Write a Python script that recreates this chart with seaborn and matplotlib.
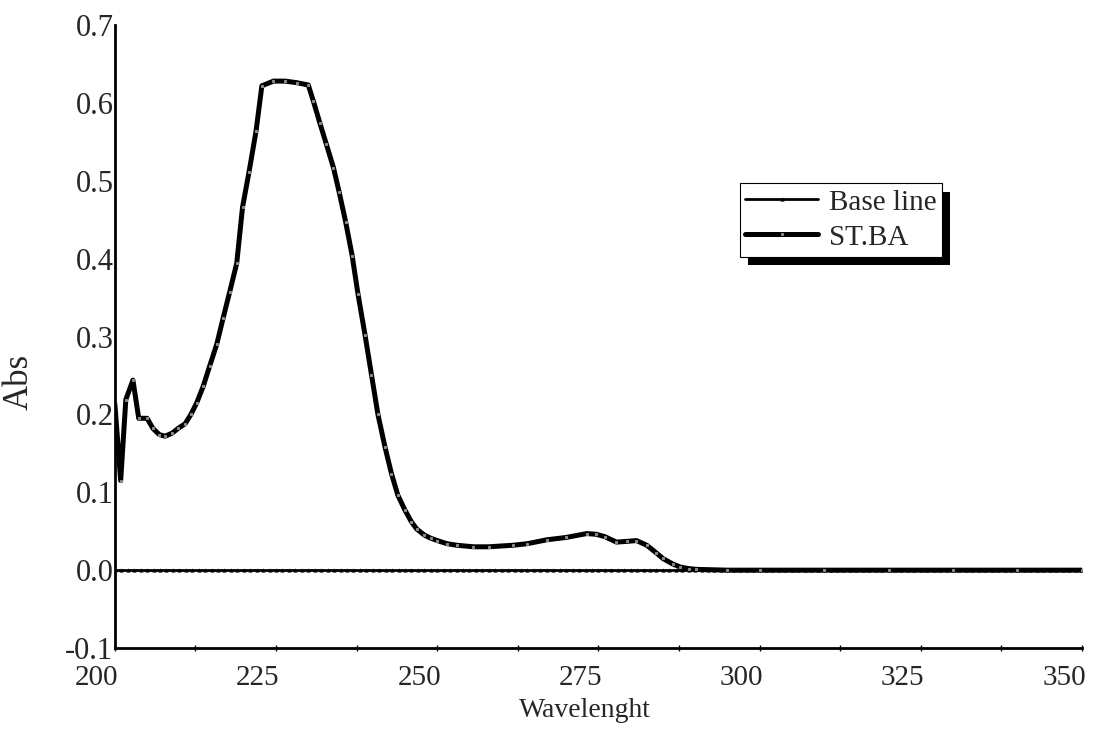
import numpy as np
import pandas as pd
import seaborn as sns
import matplotlib.pyplot as plt
import matplotlib.patheffects as pe
from matplotlib.ticker import MultipleLocator
from matplotlib.transforms import ScaledTranslation

# wavelength (nm) and absorbance
st_wl = [200.0, 200.9, 201.7, 202.8, 203.7, 205.0, 205.9, 206.9, 207.8, 208.9,
         209.8, 210.9, 211.8, 212.7, 213.7, 214.7, 215.8, 216.8, 217.8, 218.9,
         219.8, 220.8, 221.9, 222.8, 224.6, 226.4, 228.2, 230.0, 230.8, 231.8,
         232.8, 233.9, 234.8, 235.8, 236.8, 237.7, 238.8, 239.8, 240.8, 241.9,
         242.9, 243.9, 245.0, 246.0, 246.8, 248.0, 249.0, 250.0, 251.5, 253.0,
         255.6, 258.0, 261.8, 264.0, 267.0, 270.0, 273.2, 274.7, 276.0, 277.8,
         279.5, 280.9, 282.5, 284.0, 285.0, 286.5, 287.7, 289.0, 290.2, 295.0,
         300.0, 310.0, 320.0, 330.0, 340.0, 350.0]
st_abs = [0.213, 0.115, 0.219, 0.244, 0.195, 0.195, 0.182, 0.174, 0.172, 0.176,
          0.182, 0.188, 0.200, 0.215, 0.236, 0.262, 0.290, 0.324, 0.357, 0.394,
          0.466, 0.511, 0.564, 0.622, 0.628, 0.628, 0.626, 0.623, 0.602, 0.574,
          0.547, 0.517, 0.485, 0.447, 0.404, 0.355, 0.302, 0.251, 0.200, 0.158,
          0.124, 0.096, 0.077, 0.062, 0.053, 0.045, 0.041, 0.038, 0.034, 0.032,
          0.030, 0.030, 0.032, 0.034, 0.039, 0.042, 0.047, 0.046, 0.043, 0.036,
          0.037, 0.038, 0.032, 0.022, 0.015, 0.008, 0.004, 0.002, 0.001, 0.000,
          0.000, 0.000, 0.000, 0.000, 0.000, 0.000]

base_wl = list(range(200, 351))
base_abs = [0.0] * len(base_wl)

df_st = pd.DataFrame({"wl": st_wl, "abs": st_abs})
df_base = pd.DataFrame({"wl": base_wl, "abs": base_abs})

sns.set_style("white")
plt.rcParams["font.family"] = ["Liberation Serif", "DejaVu Serif"]

fig = plt.figure(figsize=(10.94, 7.30), dpi=100)
ax = fig.add_axes([0.105, 0.1123, 0.884, 0.8534])

sns.lineplot(data=df_base, x="wl", y="abs", ax=ax, color="black", lw=2,
             marker="^", markersize=3, markeredgewidth=0, label="Base line")
sns.lineplot(data=df_st, x="wl", y="abs", ax=ax, color="black", lw=3.6,
             marker="s", markersize=1.6, markerfacecolor="#888888",
             markeredgecolor="#888888", label="ST.BA")

ax.set_xlim(200, 350)
ax.set_ylim(-0.1, 0.7)
ax.xaxis.set_major_locator(MultipleLocator(25))
ax.xaxis.set_minor_locator(MultipleLocator(12.5))
ax.yaxis.set_major_locator(MultipleLocator(0.1))
ax.set_yticklabels([f"{v:.1f}" for v in ax.get_yticks()])

ax.tick_params(axis="x", which="both", direction="inout", length=5, width=1,
               color="black", labelsize=21, pad=10, bottom=True)
ax.tick_params(axis="y", length=0, labelsize=22, pad=1)

# x labels sit a little to the left of their ticks in the original
off = ScaledTranslation(-18 / 100, 0, fig.dpi_scale_trans)
for lab in ax.get_xticklabels():
    lab.set_transform(lab.get_transform() + off)

for side in ["top", "right"]:
    ax.spines[side].set_visible(False)
for side in ["left", "bottom"]:
    ax.spines[side].set_linewidth(2)
    ax.spines[side].set_color("black")

ax.set_xlabel("Wavelenght", fontsize=20)
ax.set_ylabel("Abs", fontsize=25)
ax.xaxis.set_label_coords(0.486, -0.081)
ax.yaxis.set_label_coords(-0.082, 0.427)

leg = ax.legend(loc="upper left", bbox_to_anchor=(0.646, 0.746), borderaxespad=0,
                fontsize=21, frameon=True, fancybox=False, handlelength=2.5,
                handletextpad=0.35, labelspacing=0.3, borderpad=0.2)
frame = leg.get_frame()
frame.set_edgecolor("black")
frame.set_linewidth(0.8)
frame.set_alpha(1)
frame.set_path_effects([pe.SimplePatchShadow(offset=(6, -6), shadow_rgbFace="black", alpha=1.0),
                        pe.Normal()])

fig.savefig("out.png", dpi=100)
